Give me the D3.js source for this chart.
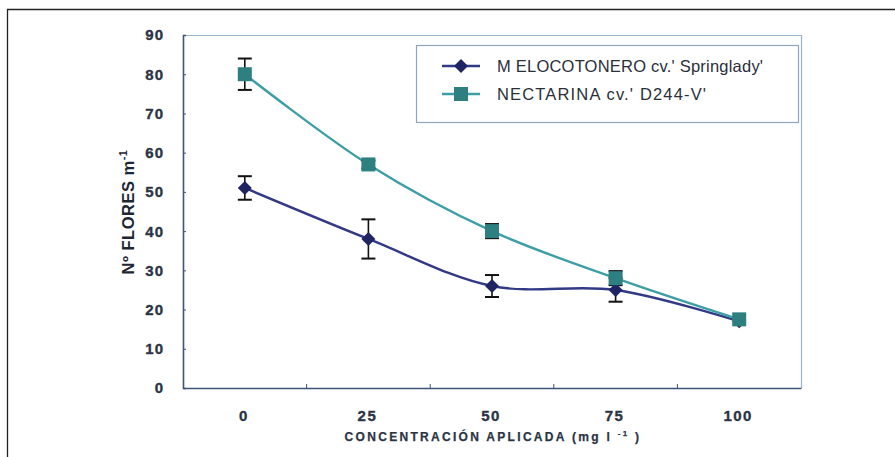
<!DOCTYPE html>
<html><head><meta charset="utf-8">
<script src="https://cdn.jsdelivr.net/npm/d3@7"></script>
<style>body{margin:0;background:#fff}svg{display:block}</style>
</head><body>
<script>
const categories = ["0","25","50","75","100"];
const melValues = [51, 38, 26, 25, 17];
const melErrors = [3, 5, 2.8, 3, 0.8];
const necValues = [80, 57, 40, 28, 17.5];
const necErrors = [4, 1, 1.8, 1.8, 0.8];
const yTicks = [0,10,20,30,40,50,60,70,80,90];
const seriesNames = ["M ELOCOTONERO cv.' Springlady'", "NECTARINA cv.' D244-V'"];

const W = 895, H = 457;
const m = {left:183, top:35, right:801, bottom:388};
const svg = d3.select("body").append("svg").attr("width",W).attr("height",H);

// outer frame
svg.append("path").attr("d",`M7.5,${H} V9.5 H${W}`).attr("fill","none").attr("stroke","#222").attr("stroke-width",1.3);

const x = d3.scaleBand().domain(categories).range([m.left,m.right]);
const y = d3.scaleLinear().domain([0,90]).range([m.bottom,m.top]);

// plot border top/right
svg.append("path").attr("d",`M${m.left},${m.top+0.5} H${m.right+0.5} V${m.bottom}`).attr("fill","none").attr("stroke","#9bb3cc").attr("stroke-width",1.2);

const axisColor = "#3d5677";
const textColor = "#2b3444";
const FONT = "Liberation Sans, Arial, sans-serif";

// y axis
const gy = svg.append("g").attr("transform",`translate(${m.left},0)`)
  .call(d3.axisRight(y).tickValues(yTicks).tickSize(3).tickFormat(""));
gy.select(".domain").attr("stroke",axisColor).attr("stroke-width",1.6);
gy.selectAll(".tick line").attr("stroke",axisColor);
svg.append("g").selectAll("text").data(yTicks).join("text")
  .attr("x",164).attr("y",d=>y(d)).attr("dy","0.36em").attr("text-anchor","end")
  .attr("font-family",FONT).attr("font-weight","bold").attr("font-size",15)
  .attr("letter-spacing","1px").attr("stroke",textColor).attr("stroke-width",0.35)
  .attr("fill",textColor).text(d=>d);

// x axis
const gx = svg.append("g").attr("transform",`translate(0,${m.bottom})`)
  .call(d3.axisBottom(x).tickSize(0).tickFormat(""));
gx.select(".domain").attr("stroke",axisColor).attr("stroke-width",1.6);
gx.selectAll(".tick").remove();
const bounds = categories.slice(1).map(c=>x(c));
svg.append("g").selectAll("line").data(bounds).join("line")
  .attr("x1",d=>d).attr("x2",d=>d).attr("y1",m.bottom).attr("y2",m.bottom-4)
  .attr("stroke",axisColor).attr("stroke-width",1);
svg.append("g").selectAll("text").data(categories).join("text")
  .attr("x",d=>x(d)+x.bandwidth()/2-1).attr("y",421).attr("text-anchor","middle")
  .attr("font-family",FONT).attr("font-weight","bold").attr("font-size",15)
  .attr("letter-spacing","1.5px").attr("stroke",textColor).attr("stroke-width",0.35)
  .attr("fill",textColor).text(d=>d);

// axis titles
const xt = svg.append("text").attr("x",493).attr("y",441).attr("text-anchor","middle")
  .attr("font-family",FONT).attr("font-weight","bold").attr("font-size",12)
  .attr("letter-spacing","2.3px").attr("stroke",textColor).attr("stroke-width",0.25).attr("fill",textColor);
xt.append("tspan").text("CONCENTRACIÓN APLICADA (mg l ");
xt.append("tspan").attr("dy",-5).attr("font-size",8).text("-1");
xt.append("tspan").attr("dy",5).text(" )");

const yt = svg.append("text").attr("transform","translate(134,212) rotate(-90)").attr("text-anchor","middle")
  .attr("font-family",FONT).attr("font-weight","bold").attr("font-size",16.5)
  .attr("letter-spacing","0.5px").attr("fill","#1e2533");
yt.append("tspan").text("Nº FLORES m");
yt.append("tspan").attr("dy",-7).attr("font-size",11).text("-1");

const cx = c => x(c)+x.bandwidth()/2;
const series = [
  {vals:melValues, errs:melErrors, line:"#323a85", mark:"#1f2463", shape:"diamond", tl:266},
  {vals:necValues, errs:necErrors, line:"#3d9ea6", mark:"#2e7f80", shape:"square", tl:209}
];
const lineGen = d3.line().x((d,i)=>cx(categories[i])).y(d=>y(d)).curve(d3.curveCatmullRom.alpha(0.5));

series.forEach(s=>{
  svg.append("path").attr("d",lineGen(s.vals)).attr("fill","none").attr("stroke",s.line).attr("stroke-width",2.4);
});
// error bars
series.forEach(s=>{
  const g = svg.append("g").attr("stroke","#111").attr("stroke-width",1.6);
  s.vals.forEach((v,i)=>{
    if (s.errs[i] < 1) return;
    const X = cx(categories[i]);
    g.append("line").attr("x1",X).attr("x2",X).attr("y1",y(v+s.errs[i])).attr("y2",y(v-s.errs[i]));
    [v+s.errs[i], v-s.errs[i]].forEach(e=>g.append("line").attr("x1",X-7).attr("x2",X+7).attr("y1",y(e)).attr("y2",y(e)).attr("stroke-width",2));
  });
});
// markers
function marker(g, shape, X, Y, color){
  if (shape==="diamond") g.append("path").attr("d",`M${X},${Y-7} L${X+7},${Y} L${X},${Y+7} L${X-7},${Y} Z`).attr("fill",color);
  else g.append("rect").attr("x",X-7).attr("y",Y-7).attr("width",14).attr("height",14).attr("fill",color);
}
series.forEach(s=>{
  const g = svg.append("g");
  s.vals.forEach((v,i)=>marker(g, s.shape, cx(categories[i]), y(v), s.mark));
});

// legend
svg.append("rect").attr("x",416.5).attr("y",45.5).attr("width",382).attr("height",77).attr("fill","#fff")
  .attr("stroke","#8ea6c0").attr("stroke-width",1.2);
series.forEach((s,i)=>{
  const Y = 66 + i*28;
  svg.append("line").attr("x1",442).attr("x2",480).attr("y1",Y).attr("y2",Y).attr("stroke",s.line).attr("stroke-width",2.4);
  marker(svg, s.shape, 461, Y, s.mark);
  svg.append("text").attr("x",497).attr("y",Y).attr("dy","0.36em")
    .attr("font-family",FONT).attr("font-size",16.5).attr("fill","#2a2f3a")
    .attr("textLength",s.tl).attr("lengthAdjust","spacing").text(seriesNames[i]);
});
</script>
</body></html>
